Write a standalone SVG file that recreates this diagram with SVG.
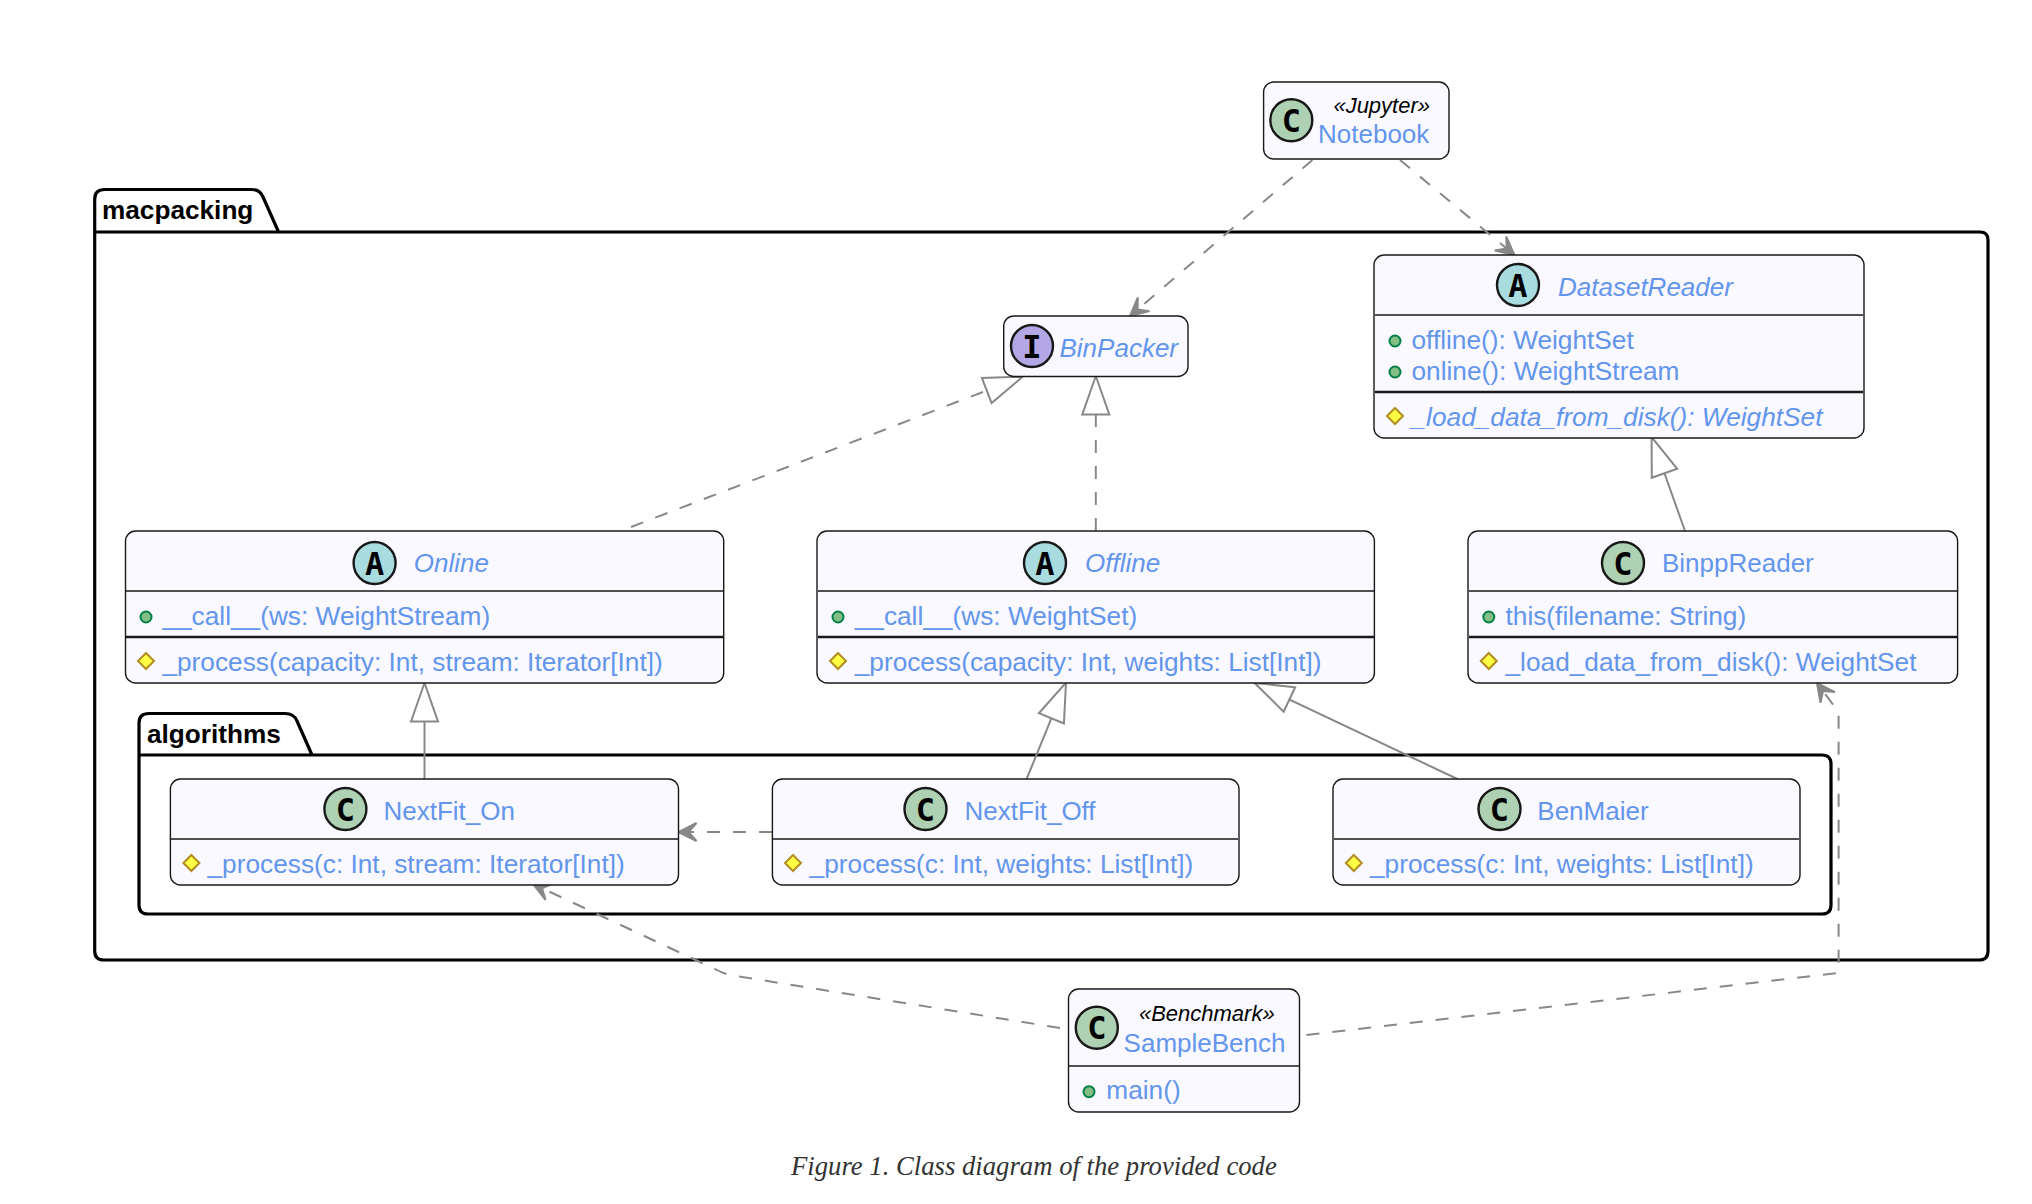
<svg xmlns="http://www.w3.org/2000/svg" width="2032" height="1204" viewBox="0 0 2032 1204">
<style>
text{font-family:"Liberation Sans",Arial,sans-serif}
.box{fill:#F9F9FF;stroke:#181818;stroke-width:1.4}
.sep{stroke:#181818;stroke-width:1.3}
.sep2{stroke:#181818;stroke-width:2.4}
.pkg{fill:none;stroke:#000;stroke-width:3.2;stroke-linejoin:round}
.pname{font-size:26.2px;font-weight:700;fill:#000}
.n{font-size:26px;fill:#6495ED}
.r{font-size:26.25px}
.i{font-style:italic}
.st{font-size:22px;font-style:italic;fill:#000}
.circ{stroke:#181818;stroke-width:2.4}
.c{fill:#ADD1B2}.a{fill:#A9DCDF}.if{fill:#B4A7E5}
.l{font-family:"DejaVu Sans Mono","Liberation Mono",monospace;font-weight:700;font-size:32px;fill:#000;text-anchor:middle}
.pub{fill:#84BE84;stroke:#038048;stroke-width:2}
.pro{fill:#FFFF44;stroke:#B38D22;stroke-width:2}
.cn{fill:none;stroke:#888;stroke-width:2}
.d{stroke-dasharray:13 13}
.cap{font-family:"Liberation Serif",serif;font-style:italic;font-size:26.7px;fill:#333}
</style>
<defs>
<marker id="open" markerUnits="userSpaceOnUse" viewBox="-24 -12 26 24" markerWidth="26" markerHeight="24" refX="0" refY="0" orient="auto"><path d="M0,0L-18,-9L-10,0L-18,9Z" fill="#888" stroke="#888" stroke-width="2"/></marker>
<marker id="tri" markerUnits="userSpaceOnUse" viewBox="-42 -17 46 34" markerWidth="46" markerHeight="34" refX="0" refY="0" orient="auto"><path d="M0,0L-38.5,-13.5L-38.5,13.5Z" fill="#fff" stroke="#888" stroke-width="2"/></marker>
<path id="dia" d="M0,-8L8,0L0,8L-8,0Z"/>
</defs>
<rect width="2032" height="1204" fill="#fff"/>
<g id="macpacking">
<path class="pkg" d="M94.7,232V199Q94.7,189.5 105,189.5H252Q260,189.5 263,197L278.6,232M94.7,232H1980Q1988,232 1988,240V951Q1988,960 1979,960H104Q94.7,960 94.7,951V232"/>
<text class="pname" x="102" y="219">macpacking</text>
</g>
<g id="algorithms">
<path class="pkg" d="M139,755V723Q139,713.5 149,713.5H285Q294,713.5 297,721L312,755M139,755H1822Q1831,755 1831,764V905Q1831,914 1822,914H148Q139,914 139,905V755"/>
<text class="pname" x="147" y="743">algorithms</text>
</g>
<g id="connectors">
<path class="cn d" d="M1312.4,160L1130,316" marker-end="url(#open)"/>
<path class="cn d" d="M1400,160L1514.4,255" marker-end="url(#open)"/>
<path class="cn d" d="M631,527L1022.7,376.7" marker-end="url(#tri)"/>
<path class="cn d" d="M1095.8,531V376" marker-end="url(#tri)"/>
<path class="cn" d="M1685,531L1651.6,437" marker-end="url(#tri)"/>
<path class="cn" d="M424.5,779V683" marker-end="url(#tri)"/>
<path class="cn" d="M1026.6,779L1066,682.7" marker-end="url(#tri)"/>
<path class="cn" d="M1457.4,779L1254.6,683" marker-end="url(#tri)"/>
<path class="cn d" d="M772,832H678.5" marker-end="url(#open)"/>
<path class="cn d" d="M1060,1028L730,975Q722,973 715,969L533,884" marker-end="url(#open)"/>
<path class="cn d" d="M1306.5,1035L1838.6,973V712L1817,683" marker-end="url(#open)"/>
</g>
<g id="Notebook">
<rect class="box" x="1263.6" y="82" width="185.4" height="77" rx="10"/>
<circle class="circ c" cx="1291.3" cy="120.3" r="21"/><text class="l" x="1291.3" y="131.5">C</text>
<text class="st" x="1333.4" y="113">«Jupyter»</text>
<text class="n" x="1318" y="143">Notebook</text>
</g>
<g id="BinPacker">
<rect class="box" x="1003.7" y="316" width="184.3" height="60.5" rx="10"/>
<circle class="circ if" cx="1032" cy="346" r="21"/><text class="l" x="1032" y="357.5">I</text>
<text class="n i" x="1059.5" y="357">BinPacker</text>
</g>
<g id="DatasetReader">
<rect class="box" x="1374" y="255" width="490" height="183" rx="10"/>
<line class="sep" x1="1375" x2="1863" y1="315" y2="315"/><line class="sep2" x1="1375" x2="1863" y1="392" y2="392"/>
<circle class="circ a" cx="1518" cy="285" r="21"/><text class="l" x="1518" y="296.5">A</text>
<text class="n i" x="1558" y="296">DatasetReader</text>
<circle class="pub" cx="1395" cy="341" r="5.5"/><text class="n r" x="1411.5" y="349">offline(): WeightSet</text>
<circle class="pub" cx="1395" cy="372" r="5.5"/><text class="n r" x="1411.5" y="380">online(): WeightStream</text>
<use class="pro" href="#dia" x="1395" y="416"/><text class="n r i" x="1411.5" y="426">_load_data_from_disk(): WeightSet</text>
</g>
<g id="Online">
<rect class="box" x="125.5" y="531" width="598.2" height="152" rx="10"/>
<line class="sep" x1="126" x2="723" y1="591" y2="591"/><line class="sep2" x1="126" x2="723" y1="637" y2="637"/>
<circle class="circ a" cx="374.6" cy="563" r="21"/><text class="l" x="374.6" y="574.5">A</text>
<text class="n i" x="413.8" y="572">Online</text>
<circle class="pub" cx="146" cy="617" r="5.5"/><text class="n r" x="162.4" y="625">__call__(ws: WeightStream)</text>
<use class="pro" href="#dia" x="146" y="661"/><text class="n r" x="162.4" y="671">_process(capacity: Int, stream: Iterator[Int])</text>
</g>
<g id="Offline">
<rect class="box" x="817" y="531" width="557.4" height="152" rx="10"/>
<line class="sep" x1="818" x2="1374" y1="591" y2="591"/><line class="sep2" x1="818" x2="1374" y1="637" y2="637"/>
<circle class="circ a" cx="1045" cy="563" r="21"/><text class="l" x="1045" y="574.5">A</text>
<text class="n i" x="1085" y="572">Offline</text>
<circle class="pub" cx="838" cy="617" r="5.5"/><text class="n r" x="854.7" y="625">__call__(ws: WeightSet)</text>
<use class="pro" href="#dia" x="838" y="661"/><text class="n r" x="854.7" y="671">_process(capacity: Int, weights: List[Int])</text>
</g>
<g id="BinppReader">
<rect class="box" x="1468" y="531" width="489.6" height="152" rx="10"/>
<line class="sep" x1="1469" x2="1957" y1="591" y2="591"/><line class="sep2" x1="1469" x2="1957" y1="637" y2="637"/>
<circle class="circ c" cx="1623" cy="563" r="21"/><text class="l" x="1623" y="574.5">C</text>
<text class="n" x="1662" y="572">BinppReader</text>
<circle class="pub" cx="1488.8" cy="617" r="5.5"/><text class="n r" x="1505.5" y="625">this(filename: String)</text>
<use class="pro" href="#dia" x="1488.8" y="661"/><text class="n r" x="1505.5" y="671">_load_data_from_disk(): WeightSet</text>
</g>
<g id="NextFit_On">
<rect class="box" x="170.4" y="779" width="508.1" height="106" rx="10"/>
<line class="sep" x1="171" x2="678" y1="839" y2="839"/>
<circle class="circ c" cx="345.4" cy="809" r="21"/><text class="l" x="345.4" y="820.5">C</text>
<text class="n" x="383.5" y="820">NextFit_On</text>
<use class="pro" href="#dia" x="191.4" y="863"/><text class="n r" x="207.5" y="873">_process(c: Int, stream: Iterator[Int])</text>
</g>
<g id="NextFit_Off">
<rect class="box" x="772.4" y="779" width="466.6" height="106" rx="10"/>
<line class="sep" x1="773" x2="1238" y1="839" y2="839"/>
<circle class="circ c" cx="925.5" cy="809" r="21"/><text class="l" x="925.5" y="820.5">C</text>
<text class="n" x="964.6" y="820">NextFit_Off</text>
<use class="pro" href="#dia" x="793" y="863"/><text class="n r" x="809.6" y="873">_process(c: Int, weights: List[Int])</text>
</g>
<g id="BenMaier">
<rect class="box" x="1333" y="779" width="467" height="106" rx="10"/>
<line class="sep" x1="1334" x2="1799" y1="839" y2="839"/>
<circle class="circ c" cx="1499.5" cy="809" r="21"/><text class="l" x="1499.5" y="820.5">C</text>
<text class="n" x="1537.3" y="820">BenMaier</text>
<use class="pro" href="#dia" x="1353.8" y="863"/><text class="n r" x="1370" y="873">_process(c: Int, weights: List[Int])</text>
</g>
<g id="SampleBench">
<rect class="box" x="1068.5" y="989" width="231" height="123" rx="10"/>
<line class="sep" x1="1069" x2="1299" y1="1066" y2="1066"/>
<circle class="circ c" cx="1096.8" cy="1027.7" r="21"/><text class="l" x="1096.8" y="1039">C</text>
<text class="st" x="1138.9" y="1021">«Benchmark»</text>
<text class="n" x="1123.6" y="1052">SampleBench</text>
<circle class="pub" cx="1089" cy="1091.7" r="5.5"/><text class="n r" x="1106.3" y="1099">main()</text>
</g>
<text class="cap" x="791" y="1175">Figure 1. Class diagram of the provided code</text>
</svg>
